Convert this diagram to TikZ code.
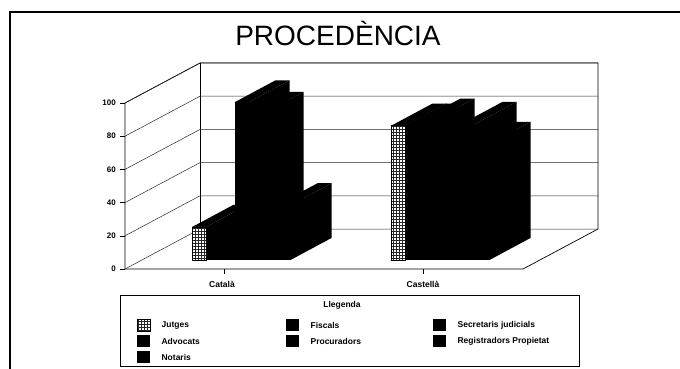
\documentclass[tikz,border=0pt]{standalone}
\usepackage{fontspec}
\setmainfont{Liberation Sans}
\usetikzlibrary{patterns, positioning}

% one 3D column: left x, value, 1 = patterned front
\newcommand{\drawbar}[3]{%
  \pgfmathsetmacro{\bt}{260-1.66*#2}
  \fill[black] (#1+14,260) -- (#1+55,238) -- (#1+55,\bt-22) -- (#1+14,\bt) -- cycle;
  \fill[black] (#1,\bt) -- (#1+14,\bt) -- (#1+55,\bt-22) -- (#1+41,\bt-22) -- cycle;
  \ifnum#3=1
    \path[jutges] (#1,\bt) rectangle (#1+14,260);
  \else
    \fill[black] (#1,\bt) rectangle (#1+14,260);
  \fi
}

\begin{document}
\begin{tikzpicture}[
    x=1pt, y=-1pt,
    frame/.style={draw=black, line width=1.2pt},
    wall/.style={draw=black, line width=0.7pt},
    gridline/.style={draw=black!85, line width=0.5pt},
    jutges/.style={draw=black, line width=0.4pt, preaction={fill=white}, pattern=grid, pattern color=black!85},
    axislabel/.style={font=\fontsize{8}{9}\selectfont\bfseries, anchor=east, inner sep=0pt},
    catlabel/.style={font=\fontsize{8.5}{10}\selectfont\bfseries, inner sep=0pt},
    keytext/.style={font=\fontsize{8.5}{10}\selectfont\bfseries, inner sep=0pt},
    swatch/.style={fill=black, minimum width=13pt, minimum height=12pt, inner sep=0pt, anchor=west}
]
    \useasboundingbox (0,0) rectangle (680,369);
    \draw[frame] (10,375) -- (10,12) -- (686,12);

    \node[font=\fontsize{28}{32}\selectfont] (title) at (338,33) {PROCEDÈNCIA};

    % walls and floor
    \draw[wall] (125,269) -- (125,103) -- (200,63) -- (598,63) -- (598,229) -- (523,269) -- cycle;
    \draw[wall] (200,63) -- (200,229);
    \foreach \v in {0,20,...,100} {
        \pgfmathsetmacro{\gy}{269-1.66*\v}
        \draw[gridline] (125,\gy) -- (200,\gy-40) -- (598,\gy-40);
        \draw (120,\gy) -- (125,\gy);
        \node[axislabel] (tick-\v) at (116,\gy) {\v};
    }

    % columns, left to right
    \foreach \vals [count=\k from 0] in {{20,19,16,95,88,18,33},{81,81,84,5,12,82,70}} {
        \foreach \v [count=\i from 0] in \vals {
            \pgfmathsetmacro{\bx}{192.5+199*\k+14*\i}
            \ifnum\i=0 \drawbar{\bx}{\v}{1}\else\drawbar{\bx}{\v}{0}\fi
        }
    }

    % category axis
    \draw (224.5,269) -- (224.5,274);
    \draw (423.5,269) -- (423.5,274);
    \node[catlabel] (cat-catala) at (222,284) {Català};
    \node[catlabel] (cat-castella) at (423,284) {Castellà};

    % legend
    \draw[wall] (120,295) rectangle (579,366);
    \node[keytext] (legend-title) at (342,305) {Llegenda};
    \node[swatch, jutges] (key-jutges) at (137,325) {};
    \node[keytext, right=11pt of key-jutges] {Jutges};
    \foreach \name/\txt/\lx/\ly in {advocats/Advocats/137/341, notaris/Notaris/137/357,
        fiscals/Fiscals/286/325, procuradors/Procuradors/286/341,
        secretaris/Secretaris judicials/433/325, registradors/Registradors Propietat/433/341} {
        \node[swatch] (key-\name) at (\lx,\ly) {};
        \node[keytext, right=11pt of key-\name] {\txt};
    }
\end{tikzpicture}
\end{document}
